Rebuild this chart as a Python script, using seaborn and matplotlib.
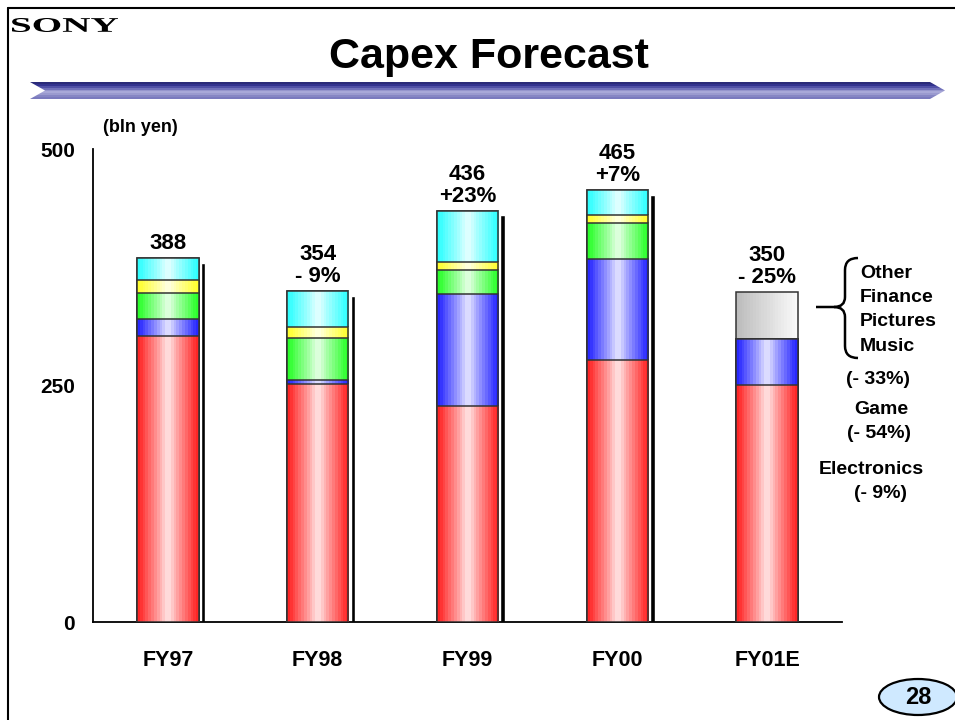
import numpy as np
import seaborn as sns
import matplotlib.pyplot as plt
from matplotlib.colors import to_rgb
from matplotlib.patches import Polygon, Ellipse, PathPatch
from matplotlib.path import Path
from matplotlib.lines import Line2D
from matplotlib.textpath import TextPath
from matplotlib.font_manager import FontProperties
from matplotlib.transforms import Affine2D

sns.set_style("white")
plt.rcParams['font.family'] = ['Liberation Sans', 'DejaVu Sans']
plt.rcParams.update({'text.color': 'black', 'xtick.color': 'black',
                     'ytick.color': 'black', 'axes.labelcolor': 'black'})

# data (bln yen)
years = ["FY97", "FY98", "FY99", "FY00", "FY01E"]
electronics = [302, 252, 229, 277, 251]
game = [18, 4, 118, 107, 48]
music = [28, 44, 25, 38, 0]
pictures = [14, 12, 9, 9, 0]
other = [23, 38, 54, 26, 0]
non_core = [0, 0, 0, 0, 50]   # FY01E: other + finance + pictures + music
total_labels = ["388", "354\n- 9%", "436\n+23%", "465\n+7%", "350\n- 25%"]

layers = [electronics, game, music, pictures, other, non_core]
layer_colors = ['#FF2626', '#2828FF', '#2CFF2C', '#FFFF30', '#30FFFF', '#BDBDBD']

W, H = 955, 720


def fx(x):
    return x / W


def fy(y):
    return 1 - y / H


def gradient(base, n=22, linear=False):
    t = np.linspace(0, 1, n)
    rgb = np.array(to_rgb(base))
    if linear:
        mix = 0.92 * t
    else:
        mix = 0.88 * (1 - np.abs(2 * t - 1)) ** 1.1
    return (rgb + (1 - rgb) * mix[:, None])[None, :, :]


fig = plt.figure(figsize=(9.55, 7.2), dpi=100)
ax = fig.add_axes([fx(93), fy(622), fx(842) - fx(93), (622 - 149.3) / H])

cum = np.cumsum(np.array(layers), axis=0)
totals = cum[-1]

# stacked bars: draw cumulative heights from the top layer down
n_layers = len(layers)
for k in range(n_layers - 1, -1, -1):
    sns.barplot(x=years, y=cum[k], color=layer_colors[k], width=0.41,
                saturation=1, ax=ax)

# gradient fills clipped to each bar patch
for j, k in enumerate(range(n_layers - 1, -1, -1)):
    img = gradient(layer_colors[k], linear=(k == n_layers - 1))
    for p in ax.patches[5 * j:5 * j + 5]:
        x0, w, h = p.get_x(), p.get_width(), p.get_height()
        p.set_facecolor('none')
        p.set_edgecolor('#333333')
        p.set_linewidth(1.1)
        p.set_zorder(2.5 + 2 * j)
        if h <= 0:
            continue
        im = ax.imshow(img, extent=(x0, x0 + w, 0, h), aspect='auto',
                       interpolation='nearest', zorder=2 + 2 * j)
        im.set_clip_path(p)

# shadow strips on the right of the actual-year bars
ax.bar(np.arange(4) + 0.235, totals[:4] - 5, width=0.03, color='black',
       zorder=1.5)

ax.set_xlim(-0.5, 4.5)
ax.set_ylim(0, 500)

for i, lbl in enumerate(total_labels):
    ax.annotate(lbl, xy=(i, totals[i]), xytext=(0, 3),
                textcoords='offset points', ha='center', va='bottom',
                fontsize=16, fontweight='bold', linespacing=1.05,
                annotation_clip=False)

ax.set_yticks([0, 250, 500])
ax.set_yticklabels(["0", "250", "500"], fontsize=15, fontweight='bold')
ax.set_xticks(range(5))
ax.set_xticklabels(years, fontsize=15.5, fontweight='bold')
ax.set_xticks([0.5, 1.5, 2.5, 3.5], minor=True)
ax.tick_params(axis='y', direction='in', length=7, width=1.2, pad=13)
ax.tick_params(axis='x', which='major', length=0, pad=20)
ax.tick_params(axis='x', which='minor', direction='in', length=6, width=1.2)
ax.set_xlabel('')
ax.set_ylabel('')
for s in ['top', 'right']:
    ax.spines[s].set_visible(False)
for s in ['left', 'bottom']:
    ax.spines[s].set_color('black')
    ax.spines[s].set_linewidth(1.3)

# page frame
fig.add_artist(Line2D([fx(8), 1], [fy(8), fy(8)], color='black', lw=1.5))
fig.add_artist(Line2D([fx(8), fx(8)], [fy(8), 0], color='black', lw=1.5))

# SONY logo, stretched wide like the original wordmark
tp = TextPath((0, 0), "SONY", size=20,
              prop=FontProperties(family='Liberation Serif', weight='bold'))
bb = tp.get_extents()
logo_tf = (Affine2D().translate(-bb.x0, -bb.y0)
           .scale(106 / bb.width / W, 14 / bb.height / H)
           .translate(fx(12), fy(32)) + fig.transFigure)
fig.add_artist(PathPatch(tp, facecolor='black', edgecolor='none',
                         transform=logo_tf))

fig.text(fx(489), fy(57), "Capex Forecast", ha='center', va='center',
         fontsize=31, fontweight='bold')

# banner arrow
bax = fig.add_axes([fx(30), fy(99), fx(945) - fx(30), 17 / H])
bax.set_axis_off()
band = ['#2A2A78', '#33338F', '#5050A6', '#7070BA', '#9595CC', '#A8A8D8',
        '#9A9ACF', '#8686C4', '#7A7ABE']
band_img = np.array([to_rgb(c) for c in band])[:, None, :]
shape = Polygon([(0, 1), (900, 1), (915, 0.5), (900, 0), (0, 0), (15, 0.5)],
                closed=True, facecolor='none', edgecolor='none')
bax.add_patch(shape)
bim = bax.imshow(band_img, extent=(0, 915, 0, 1), aspect='auto',
                 interpolation='nearest')
bim.set_clip_path(shape)
bax.set_xlim(0, 915)
bax.set_ylim(0, 1)

fig.text(fx(140), fy(127), "(bln yen)", ha='center', va='center',
         fontsize=13, fontweight='bold')

# right-hand notes
for txt, y in zip(["Other", "Finance", "Pictures", "Music"], [273, 298, 322, 346]):
    fig.text(fx(860), fy(y), txt, ha='left', va='center', fontsize=14,
             fontweight='bold')
for txt, x, y in [("(- 33%)", 878, 380), ("Game", 881, 410),
                  ("(- 54%)", 879, 433), ("Electronics", 871, 470),
                  ("(- 9%)", 880, 493)]:
    fig.text(fx(x), fy(y), txt, ha='center', va='center', fontsize=14,
             fontweight='bold')

brace_pts = [(858, 258), (845, 258), (845, 270), (845, 297), (845, 307),
             (834, 307), (845, 307), (845, 317), (845, 346), (845, 358),
             (858, 358), (816, 307), (834, 307)]
codes = [Path.MOVETO, Path.CURVE3, Path.CURVE3, Path.LINETO, Path.CURVE3,
         Path.CURVE3, Path.CURVE3, Path.CURVE3, Path.LINETO, Path.CURVE3,
         Path.CURVE3, Path.MOVETO, Path.LINETO]
brace = Path([(fx(x), fy(y)) for x, y in brace_pts], codes)
fig.add_artist(PathPatch(brace, facecolor='none', edgecolor='black', lw=1.8,
                         transform=fig.transFigure))

# page number
fig.add_artist(Ellipse((fx(918), fy(697)), 78 / W, 36 / H,
                       transform=fig.transFigure, facecolor='#CFE9FF',
                       edgecolor='black', lw=1.6))
fig.text(fx(918), fy(698), "28", ha='center', va='center', fontsize=17,
         fontweight='bold')

fig.savefig("out.png", dpi=100)
